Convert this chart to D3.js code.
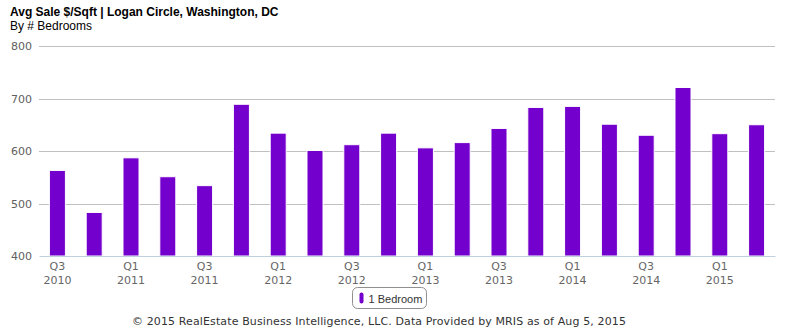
<!DOCTYPE html>
<html>
<head>
<meta charset="utf-8">
<script src="https://cdn.jsdelivr.net/npm/d3@7"></script>
<style>
  body { margin: 0; background: #fff; }
  svg { display: block; }
</style>
</head>
<body>
<div id="chart"></div>
<script>
// Data: average sale $/sqft for 1 bedroom units, by quarter
const quarters = ["Q3 2010", "Q4 2010", "Q1 2011", "Q2 2011", "Q3 2011", "Q4 2011",
  "Q1 2012", "Q2 2012", "Q3 2012", "Q4 2012", "Q1 2013", "Q2 2013", "Q3 2013", "Q4 2013",
  "Q1 2014", "Q2 2014", "Q3 2014", "Q4 2014", "Q1 2015", "Q2 2015"];
const oneBedroom = [563, 483, 587, 551, 534, 689, 634, 601, 612, 634, 606, 616, 643, 683,
  685, 651, 630, 721, 633, 650];
const yTicks = [400, 500, 600, 700, 800];

const W = 785, H = 330;
const margin = { top: 46, right: 10, bottom: 74, left: 39 };
const width = W - margin.left - margin.right;
const height = H - margin.top - margin.bottom;

const svg = d3.select("#chart").append("svg")
    .attr("width", W)
    .attr("height", H);

// Titles
svg.append("text")
    .attr("x", 10).attr("y", 16)
    .style("font-family", "'Liberation Sans', Arial, sans-serif")
    .style("font-size", "12px")
    .style("font-weight", "bold")
    .attr("fill", "#000")
    .text("Avg Sale $/Sqft | Logan Circle, Washington, DC");

svg.append("text")
    .attr("x", 10).attr("y", 30)
    .style("font-family", "'Liberation Sans', Arial, sans-serif")
    .style("font-size", "12px")
    .attr("fill", "#000")
    .text("By # Bedrooms");

const g = svg.append("g")
    .attr("transform", "translate(" + margin.left + "," + margin.top + ")");

// Scales
const x = d3.scaleBand().domain(quarters).range([0, width]).paddingInner(0.565).paddingOuter(0.2825);
const y = d3.scaleLinear().domain([400, 800]).range([height, 0]);

// Grid lines
g.append("g")
    .selectAll("line")
    .data(yTicks.filter(d => d > 400))
    .join("line")
    .attr("x1", 0).attr("x2", width)
    .attr("y1", d => Math.round(y(d)) + 0.5)
    .attr("y2", d => Math.round(y(d)) + 0.5)
    .attr("stroke", "#c0c0c0")
    .attr("stroke-width", 1);

// Y axis labels
const yAxis = d3.axisLeft(y).tickValues(yTicks).tickSize(0).tickPadding(7);
const yg = g.append("g").call(yAxis);
yg.select(".domain").remove();
yg.selectAll("text")
    .attr("fill", "#606060")
    .style("font-family", "'DejaVu Sans', sans-serif")
    .style("font-size", "11px");

// Bars
g.append("g")
    .selectAll("rect")
    .data(oneBedroom)
    .join("rect")
    .attr("x", (d, i) => x(quarters[i]))
    .attr("y", d => y(d))
    .attr("width", x.bandwidth())
    .attr("height", d => height - y(d))
    .attr("fill", "#7300cc")
    .attr("stroke", "#fff")
    .attr("stroke-width", 1);

// X axis
const xAxis = d3.axisBottom(x).tickSize(0).tickFormat("");
const xg = g.append("g")
    .attr("transform", "translate(0," + height + ")")
    .call(xAxis);
xg.select(".domain").attr("stroke", "#c0d0e0").attr("stroke-width", 1);

xg.selectAll(".tick")
    .filter((d, i) => i % 2 === 0)
    .each(function(d) {
        const parts = d.split(" ");
        const t = d3.select(this).append("text")
            .attr("fill", "#666")
            .attr("text-anchor", "middle")
            .style("font-family", "'DejaVu Sans', sans-serif")
            .style("font-size", "11px");
        t.append("tspan").attr("x", 0).attr("y", 14).text(parts[0]);
        t.append("tspan").attr("x", 0).attr("y", 28).text(parts[1]);
    });

// Legend
const legend = svg.append("g").attr("transform", "translate(352.5,287.5)");
legend.append("rect")
    .attr("width", 74).attr("height", 21)
    .attr("rx", 5)
    .attr("fill", "#fff")
    .attr("stroke", "#909090")
    .attr("stroke-width", 1);
legend.append("rect")
    .attr("x", 7).attr("y", 5)
    .attr("width", 4).attr("height", 11)
    .attr("rx", 2)
    .attr("fill", "#7300cc");
legend.append("text")
    .attr("x", 16).attr("y", 15)
    .style("font-family", "'Liberation Sans', Arial, sans-serif")
    .style("font-size", "11px")
    .attr("fill", "#333")
    .text("1 Bedroom");

// Footer credit
svg.append("text")
    .attr("x", 379).attr("y", 325)
    .attr("text-anchor", "middle")
    .style("font-family", "'DejaVu Sans', sans-serif")
    .style("font-size", "11px")
    .style("letter-spacing", "0.12px")
    .attr("fill", "#333")
    .text("© 2015 RealEstate Business Intelligence, LLC. Data Provided by MRIS as of Aug 5, 2015");
</script>
</body>
</html>
